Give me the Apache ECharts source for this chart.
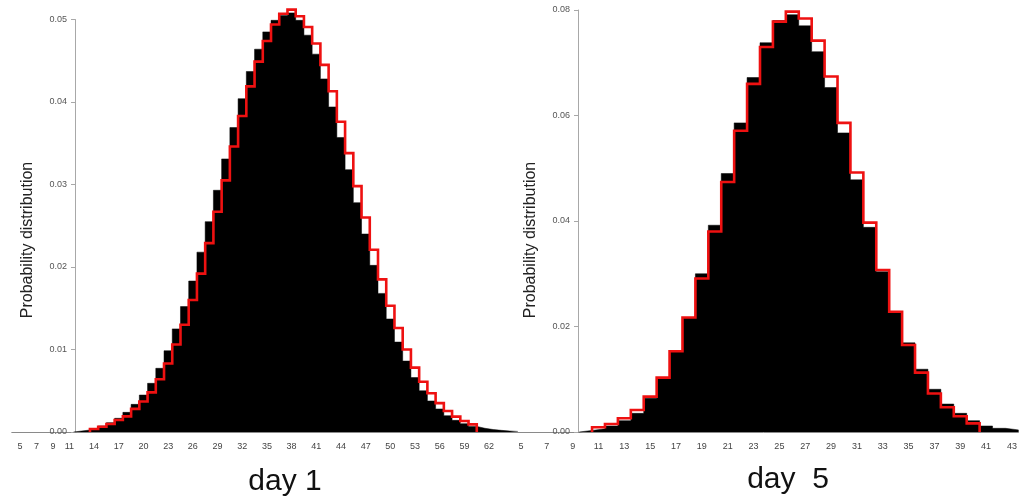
<!DOCTYPE html>
<html>
<head>
<meta charset="utf-8">
<script src="https://cdn.jsdelivr.net/npm/echarts@6/dist/echarts.min.js"></script>
<style>
  html, body { margin: 0; padding: 0; background: #ffffff; }
  #chart { width: 1025px; height: 499px; }
</style>
</head>
<body>
<div id="chart"></div>
<script>
// Day 1: observed histogram (black) and model distribution (red step outline)
const day1Bins = [12,13,14,15,16,17,18,19,20,21,22,23,24,25,26,27,28,29,30,31,32,33,34,35,36,37,38,39,40,
  41,42,43,44,45,46,47,48,49,50,51,52,53,54,55,56,57,58,59,60,61,62,63,64,65];
const day1Observed = [0.00012,0.00024,0.00045,0.00073,0.00113,0.00166,0.00238,0.00335,0.00448,0.0059,
  0.00772,0.00985,0.0125,0.0152,0.0183,0.0218,0.0255,0.0293,0.0331,0.0369,0.0404,0.0437,0.0464,0.0485,
  0.0499,0.0505,0.0508,0.0499,0.0481,0.0458,0.0428,0.0394,0.0357,0.0318,0.0278,0.0240,0.0202,0.0168,
  0.0137,0.0109,0.0086,0.0066,0.0050,0.00376,0.00279,0.00198,0.00141,0.00101,0.00068,0.00045,0.0003,
  0.0002,0.00012,0.00007];
const day1ModelBins = [14,15,16,17,18,19,20,21,22,23,24,25,26,27,28,29,30,31,32,33,34,35,36,37,38,39,40,
  41,42,43,44,45,46,47,48,49,50,51,52,53,54,55,56,57,58,59,60];
const day1Model = [0.00036,0.00064,0.00097,0.00145,0.0019,0.0028,0.0037,0.0048,0.0064,0.0083,0.0106,
  0.0130,0.0160,0.0192,0.0229,0.0267,0.0305,0.0346,0.0383,0.0419,0.0449,0.0474,0.0494,0.0507,0.0512,
  0.0504,0.0491,0.0471,0.0445,0.0413,0.0376,0.0338,0.0298,0.0260,0.0221,0.0185,0.0153,0.0126,0.0100,
  0.0078,0.0061,0.0047,0.0035,0.00255,0.00186,0.00133,0.00093];
const day1XLabels = [5,7,9,11,14,17,20,23,26,29,32,35,38,41,44,47,50,53,56,59,62];

// Day 5
const day5Bins = [10,11,12,13,14,15,16,17,18,19,20,21,22,23,24,25,26,27,28,29,30,31,32,33,34,35,36,37,
  38,39,40,41,42,43];
const day5Observed = [0.0003,0.0006,0.00114,0.00215,0.00354,0.0064,0.0102,0.0152,0.0216,0.0300,0.0392,
  0.0490,0.0586,0.0672,0.0738,0.0780,0.0791,0.0770,0.0721,0.0653,0.0567,0.0478,0.0388,0.0304,0.0226,
  0.0169,0.0119,0.0081,0.0053,0.00354,0.00215,0.00114,0.0007,0.0004];
const day5ModelBins = [11,12,13,14,15,16,17,18,19,20,21,22,23,24,25,26,27,28,29,30,31,32,33,34,35,36,
  37,38,39,40];
const day5Model = [0.00089,0.00152,0.0026,0.00417,0.0067,0.0103,0.0153,0.0217,0.0291,0.0380,0.0474,
  0.0571,0.0660,0.0730,0.0778,0.0797,0.0784,0.0742,0.0674,0.0586,0.0492,0.0397,0.0307,0.0228,0.0165,
  0.01125,0.0073,0.0047,0.0030,0.00164];
const day5XLabels = [5,7,9,11,13,15,17,19,21,23,25,27,29,31,33,35,37,39,41,43];

const panelTitles = ['day 1', 'day  5'];
const yName = 'Probability distribution';

const FONT = '"Liberation Sans", Arial, sans-serif';
const RED = '#ee1111';

// Histogram outline as step points: each bin spans [b - 0.5, b + 0.5]
function stepPoints(bins, vals) {
  const pts = [[bins[0] - 0.5, 0]];
  bins.forEach((b, i) => pts.push([b - 0.5, vals[i]]));
  pts.push([bins[bins.length - 1] + 0.5, 0]);
  return pts;
}

function plotXAxis(gridIndex, min, max, labels) {
  return {
    type: 'value', gridIndex, min, max, interval: 1,
    axisLine: { show: true, lineStyle: { color: '#8a8a8a', width: 1 } },
    axisTick: { show: false },
    splitLine: { show: false },
    axisLabel: {
      margin: 10, fontSize: 9, color: '#444', fontFamily: FONT,
      showMinLabel: true, showMaxLabel: true,
      formatter: v => (labels.indexOf(Math.round(v)) >= 0 && Math.abs(v - Math.round(v)) < 1e-6) ? String(Math.round(v)) : ''
    }
  };
}
function hiddenAxis(type, gridIndex, min, max) {
  return { type, gridIndex, min, max, show: false, splitLine: { show: false } };
}
function shownYAxis(gridIndex, max, interval) {
  return {
    type: 'value', gridIndex, min: 0, max, interval,
    axisLine: { show: true, lineStyle: { color: '#a8a8a8', width: 1 } },
    axisTick: { show: true, length: 4, lineStyle: { color: '#a8a8a8' } },
    splitLine: { show: false },
    axisLabel: { margin: 8, fontSize: 9, color: '#555', fontFamily: FONT, formatter: v => v.toFixed(2) }
  };
}

const chart = echarts.init(document.getElementById('chart'), null, { renderer: 'canvas' });

const option = {
  backgroundColor: '#ffffff',
  animation: false,
  grid: [
    { left: 11.77, top: 19.5, width: 508.2, height: 412.5, containLabel: false },
    { left: 75, top: 19.5, width: 10, height: 412.5, containLabel: false },
    { left: 508.08, top: 10, width: 510.3, height: 422, containLabel: false },
    { left: 578, top: 10, width: 10, height: 422, containLabel: false }
  ],
  xAxis: [
    plotXAxis(0, 4, 65.75, day1XLabels),
    hiddenAxis('value', 1, 0, 1),
    plotXAxis(2, 4, 43.5, day5XLabels),
    hiddenAxis('value', 3, 0, 1)
  ],
  yAxis: [
    hiddenAxis('value', 0, 0, 0.05),
    shownYAxis(1, 0.05, 0.01),
    hiddenAxis('value', 2, 0, 0.08),
    shownYAxis(3, 0.08, 0.02)
  ],
  series: [
    {
      name: 'day 1 observed', type: 'line', xAxisIndex: 0, yAxisIndex: 0, step: 'end',
      data: stepPoints(day1Bins, day1Observed), symbol: 'none', clip: false, silent: true,
      lineStyle: { width: 0.5, color: '#000' }, areaStyle: { color: '#000', opacity: 1 }, z: 2
    },
    {
      name: 'day 1 model', type: 'line', xAxisIndex: 0, yAxisIndex: 0, step: 'end',
      data: stepPoints(day1ModelBins, day1Model), symbol: 'none', clip: false, silent: true,
      lineStyle: { width: 2.6, color: RED, join: 'miter' }, z: 3
    },
    {
      name: 'day 5 observed', type: 'line', xAxisIndex: 2, yAxisIndex: 2, step: 'end',
      data: stepPoints(day5Bins, day5Observed), symbol: 'none', clip: false, silent: true,
      lineStyle: { width: 0.5, color: '#000' }, areaStyle: { color: '#000', opacity: 1 }, z: 2
    },
    {
      name: 'day 5 model', type: 'line', xAxisIndex: 2, yAxisIndex: 2, step: 'end',
      data: stepPoints(day5ModelBins, day5Model), symbol: 'none', clip: false, silent: true,
      lineStyle: { width: 2.6, color: RED, join: 'miter' }, z: 3
    }
  ],
  graphic: [
    { type: 'text', x: 28, y: 240, rotation: Math.PI / 2,
      style: { text: yName, fontSize: 16, fontFamily: FONT, fill: '#222', align: 'center', verticalAlign: 'middle' } },
    { type: 'text', x: 531, y: 240, rotation: Math.PI / 2,
      style: { text: yName, fontSize: 16, fontFamily: FONT, fill: '#222', align: 'center', verticalAlign: 'middle' } },
    { type: 'text', x: 285, y: 482,
      style: { text: panelTitles[0], fontSize: 30, fontFamily: FONT, fill: '#111', align: 'center', verticalAlign: 'middle' } },
    { type: 'text', x: 788, y: 480,
      style: { text: panelTitles[1], fontSize: 30, fontFamily: FONT, fill: '#111', align: 'center', verticalAlign: 'middle' } }
  ]
};

chart.setOption(option);
</script>
</body>
</html>
